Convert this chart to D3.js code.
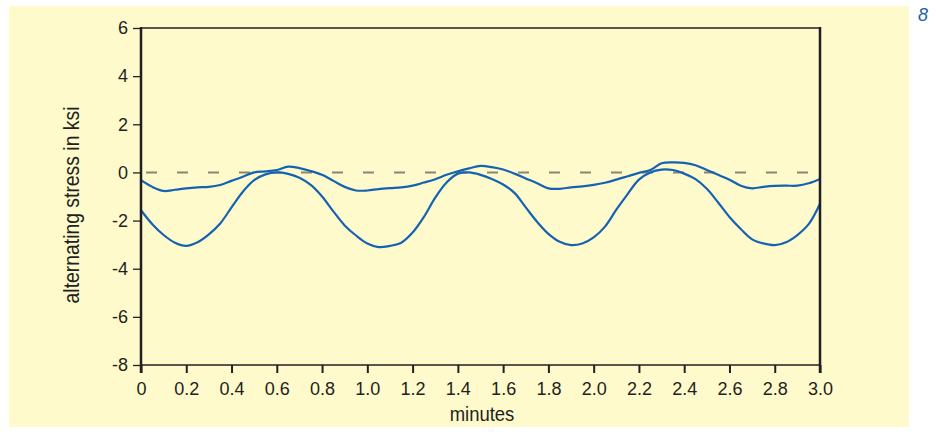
<!DOCTYPE html>
<html><head><meta charset="utf-8">
<script src="https://cdn.jsdelivr.net/npm/d3@7"></script>
<style>body{margin:0;background:#fff}svg{display:block}text{font-family:"Liberation Sans",Arial,sans-serif;fill:#231f20}</style>
</head><body><svg id="c" width="936" height="432"></svg>
<script>
const minutes = [0,0.05,0.1,0.15,0.2,0.25,0.3,0.35,0.4,0.45,0.5,0.55,0.6,0.65,0.7,0.75,0.8,0.85,0.9,0.95,1.0,1.05,1.1,1.15,1.2,1.25,1.3,1.35,1.4,1.45,1.5,1.55,1.6,1.65,1.7,1.75,1.8,1.85,1.9,1.95,2.0,2.05,2.1,2.15,2.2,2.25,2.3,2.35,2.4,2.45,2.5,2.55,2.6,2.65,2.7,2.75,2.8,2.85,2.9,2.95,3.0];
const stressDeep = [-1.57,-2.15,-2.6,-2.92,-3.05,-2.9,-2.57,-2.12,-1.45,-0.8,-0.32,-0.08,0.0,-0.06,-0.22,-0.52,-1.0,-1.62,-2.2,-2.62,-2.95,-3.1,-3.05,-2.92,-2.5,-1.85,-1.05,-0.42,-0.05,0.0,-0.1,-0.27,-0.5,-0.85,-1.45,-2.05,-2.55,-2.88,-3.02,-2.95,-2.7,-2.25,-1.55,-0.9,-0.3,0.0,0.12,0.1,-0.05,-0.28,-0.68,-1.25,-1.85,-2.35,-2.78,-2.95,-3.02,-2.9,-2.6,-2.15,-1.3];
const stressShallow = [-0.32,-0.6,-0.77,-0.72,-0.66,-0.62,-0.6,-0.52,-0.35,-0.18,0.0,0.04,0.1,0.24,0.18,0.06,-0.1,-0.35,-0.6,-0.75,-0.75,-0.69,-0.65,-0.62,-0.55,-0.42,-0.28,-0.1,0.05,0.17,0.27,0.22,0.12,-0.05,-0.25,-0.45,-0.66,-0.68,-0.62,-0.58,-0.52,-0.43,-0.3,-0.16,-0.02,0.1,0.38,0.42,0.4,0.3,0.1,-0.1,-0.3,-0.55,-0.66,-0.6,-0.56,-0.55,-0.55,-0.45,-0.27];
const xTicks = [0,0.2,0.4,0.6,0.8,1.0,1.2,1.4,1.6,1.8,2.0,2.2,2.4,2.6,2.8,3.0];
const xTickLabels = ["0","0.2","0.4","0.6","0.8","1.0","1.2","1.4","1.6","1.8","2.0","2.2","2.4","2.6","2.8","3.0"];
const yTicks = [6,4,2,0,-2,-4,-6,-8];
const yTickLabels = ["6","4","2","0","-2","-4","-6","-8"];

const svg = d3.select("#c");
svg.append("rect").attr("x",9).attr("y",6).attr("width",900).attr("height",421).attr("fill","#fefacc");
svg.append("text").attr("x",918).attr("y",21).attr("font-size",18).attr("font-style","italic").style("fill","#1b5eab").text("8");

const x = d3.scaleLinear().domain([0,3]).range([141,820]);
const y = d3.scaleLinear().domain([-8,6]).range([365,28]);

svg.append("line").attr("x1",x(0)+5).attr("x2",x(3)+7).attr("y1",y(0)).attr("y2",y(0))
  .attr("stroke","#8a8672").attr("stroke-width",2).attr("stroke-dasharray","11,20");

const line = d3.line().x((d,i)=>x(minutes[i])).y(d=>y(d)).curve(d3.curveCatmullRom.alpha(0.5));
[stressShallow, stressDeep].forEach(s=>{
  svg.append("path").attr("d",line(s)).attr("fill","none").attr("stroke","#1463b3").attr("stroke-width",2.2);
});

svg.append("line").attr("x1",x(0)).attr("x2",x(3)).attr("y1",y(6)).attr("y2",y(6)).attr("stroke","#231f20").attr("stroke-width",1.3);
svg.append("line").attr("x1",x(0)).attr("x2",x(3)).attr("y1",y(-8)).attr("y2",y(-8)).attr("stroke","#231f20").attr("stroke-width",1.3);

const yAxis = d3.axisLeft(y).tickValues(yTicks).tickSize(8).tickPadding(5).tickFormat((d,i)=>yTickLabels[i]);
const gy = svg.append("g").attr("transform",`translate(${x(0)},0)`).call(yAxis);
gy.select(".domain").remove();
gy.selectAll(".tick line").attr("stroke","#231f20").attr("stroke-width",1.3);
gy.selectAll(".tick text").attr("font-size",18).attr("font-family",null).attr("fill",null);

const xAxis = d3.axisBottom(x).tickValues(xTicks).tickSize(8).tickPadding(9).tickFormat((d,i)=>xTickLabels[i]);
const gx = svg.append("g").attr("transform",`translate(0,${y(-8)})`).call(xAxis);
gx.select(".domain").remove();
gx.selectAll(".tick line").attr("stroke","#231f20").attr("stroke-width",2);
gx.selectAll(".tick text").attr("font-size",18).attr("font-family",null).attr("fill",null);

svg.append("line").attr("x1",x(0)).attr("x2",x(0)).attr("y1",y(6)-1).attr("y2",y(-8)+8).attr("stroke","#231f20").attr("stroke-width",2.5);
svg.append("line").attr("x1",x(3)).attr("x2",x(3)).attr("y1",y(6)-1).attr("y2",y(-8)+8).attr("stroke","#231f20").attr("stroke-width",2.5);

svg.append("text").attr("transform","translate(482,421) scale(0.88,1)").attr("text-anchor","middle").attr("font-size",21).text("minutes");
svg.append("text").attr("transform","translate(79,205) rotate(-90) scale(0.88,1)").attr("text-anchor","middle").attr("font-size",22).text("alternating stress in ksi");
</script></body></html>
